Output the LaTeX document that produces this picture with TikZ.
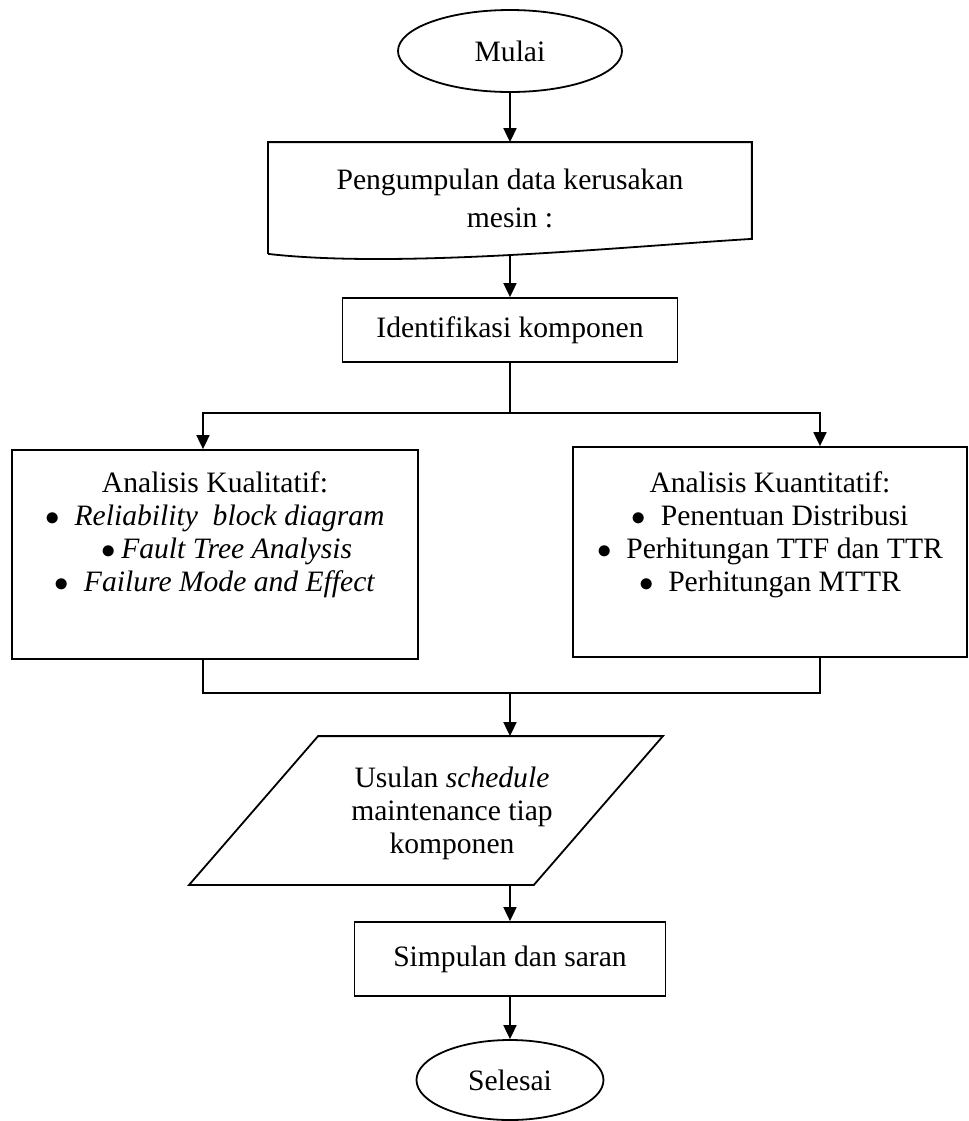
\documentclass[tikz,border=0pt]{standalone}
\usepackage{fontspec}
\setmainfont{Liberation Serif}
\usetikzlibrary{arrows.meta,calc,shapes.geometric}

\tikzset{
  >={Triangle[length=7pt,width=6.5pt]},
  every node/.style={font=\fontsize{14.8pt}{16.5pt}\selectfont},
  terminal/.style={draw, ellipse, inner sep=0pt},
  process/.style={draw, rectangle, inner sep=0pt},
}
\newcommand{\itm}{$\bullet$}

\begin{document}
\begin{tikzpicture}[node distance=2cm, auto, line width=0.9pt]
   \useasboundingbox (-255pt,25.5pt) rectangle (229.5pt,-535pt);

   % Start and data
   \node (start) [terminal, minimum width=112pt, minimum height=41pt] {Mulai};
   \node (doc) [node distance=73.5pt, below of=start, minimum width=241pt, minimum height=55pt, align=center] {Pengumpulan data kerusakan\\[2.5pt] mesin :};
   \draw (doc.south west) -- (doc.north west) -- (doc.north east) -- ($(doc.south east)+(0,7.5pt)$)
      .. controls ($(doc.south)+(55pt,3.5pt)$) and ($(doc.south)+(-55pt,-7.5pt)$) .. (doc.south west);
   \node (ident) [process, node distance=66pt, below of=doc, minimum width=167.5pt, minimum height=32pt] {Identifikasi komponen};

   % Analysis boxes
   \node (kual) [process, node distance=112.25pt, below of=ident, xshift=-147.5pt, minimum width=203pt, minimum height=104.5pt] {};
   \node (kualtxt) [node distance=10pt, above of=kual, align=center] {Analisis Kualitatif:\\
      \itm\ \ \textit{Reliability~ block diagram}\\
      \hspace*{12pt}\itm\,\textit{Fault Tree Analysis}\\
      \itm\ \ \textit{Failure Mode and Effect}};
   \node (kuan) [process, node distance=111pt, below of=ident, xshift=130pt, minimum width=197pt, minimum height=105pt] {};
   \node (kuantxt) [node distance=8.75pt, above of=kuan, align=center] {Analisis Kuantitatif:\\
      \itm\ \ Penentuan Distribusi\\
      \itm\ \ Perhitungan TTF dan TTR\\
      \itm\ \ Perhitungan MTTR};

   % Proposal and end
   \node (usul) [node distance=240.25pt, below of=ident, xshift=-42pt, minimum width=236pt, minimum height=73.5pt, inner sep=0pt] {};
   \draw ($(usul.north west)+(64.5pt,0)$) -- (usul.north east) -- ($(usul.south east)+(-64.5pt,0)$)
      -- (usul.south west) -- cycle;
   \node (usultxt) [node distance=13pt, right of=usul, yshift=-1.25pt, align=center] {Usulan \textit{schedule}\\ maintenance tiap\\ komponen};
   \node (simp) [process, node distance=74.25pt, below of=usul, xshift=42pt, minimum width=155.5pt, minimum height=37pt] {Simpulan dan saran};
   \node (stop) [terminal, node distance=60.5pt, below of=simp, minimum width=93.5pt, minimum height=40pt] {Selesai};

   \coordinate (split) at ($(ident.south)+(0,-25pt)$);
   \coordinate (merge) at ($(ident |- kual.south)+(0,-16.5pt)$);

   % Arrows
   \draw[->] (start) -- (doc);
   \draw[->] (doc.south) -- (ident);
   \draw (ident) -- (split);
   \draw[->] (split) -| ($(kual.north)+(-6pt,0)$);
   \draw[->] (split) -| ($(kuan.north)+(25pt,0)$);
   \draw ($(kual.south)+(-6pt,0)$) |- (merge) -| ($(kuan.south)+(25pt,0)$);
   \draw[->] (merge) -- (merge |- usul.north);
   \draw[->] (usul.south -| simp) -- (simp);
   \draw[->] (simp) -- (stop);
\end{tikzpicture}
\end{document}
